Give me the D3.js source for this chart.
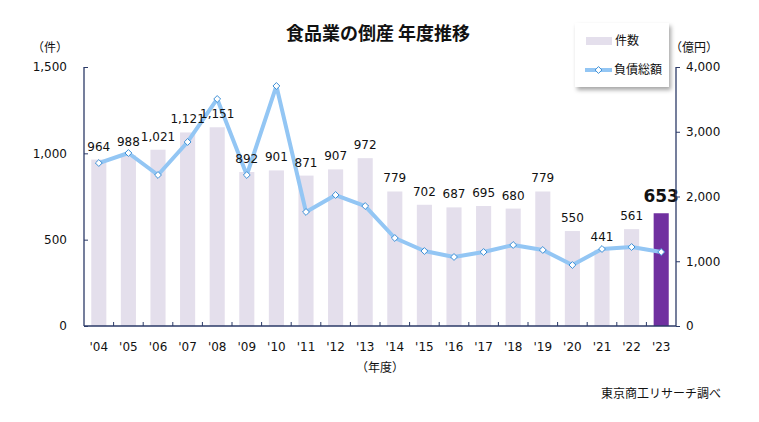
<!DOCTYPE html>
<html><head><meta charset="utf-8">
<script src="https://cdn.jsdelivr.net/npm/d3@7"></script>
<style>
body{margin:0;background:#fff;}
text{font-family:"DejaVu Sans","Noto Sans CJK JP",sans-serif;fill:#111;}
.jp{font-family:"Noto Sans CJK JP",sans-serif;}
</style></head>
<body><svg id="c" width="759" height="422"></svg>
<script>
const years = ["'04","'05","'06","'07","'08","'09","'10","'11","'12","'13","'14","'15","'16","'17","'18","'19","'20","'21","'22","'23"];
const counts = [964,988,1021,1121,1151,892,901,871,907,972,779,702,687,695,680,779,550,441,561,653];
const debt = [2517,2672,2332,2842,3506,2332,3707,1761,2023,1853,1359,1158,1066,1143,1251,1174,942,1189,1220,1143];
const leftTicks = [0,500,1000,1500];
const rightTicks = [0,1000,2000,3000,4000];

const svg = d3.select("#c");
const L=84, R=676, T=67, B=326;
const axisColor="#2b3a67";
const x = d3.scaleBand().domain(years).range([L,R]).paddingInner(0.49).paddingOuter(0.245);
const xb = d3.scaleBand().domain(years).range([L,R]);
const yL = d3.scaleLinear().domain([0,1500]).range([B,T]);
const yR = d3.scaleLinear().domain([0,4000]).range([B,T]);

// bars
svg.selectAll("rect.bar").data(counts).join("rect")
  .attr("x",(d,i)=>x(years[i])).attr("width",x.bandwidth())
  .attr("y",d=>yL(d)).attr("height",d=>B-yL(d))
  .attr("fill",(d,i)=>i===counts.length-1?"#7030a0":"#e4dfec");

// line
const line = d3.line().x((d,i)=>xb(years[i])+xb.bandwidth()/2).y(d=>yR(d));
svg.append("path").datum(debt).attr("d",line).attr("fill","none")
  .attr("stroke","#93c6f4").attr("stroke-width",4).attr("stroke-linejoin","round");
svg.selectAll("path.mk").data(debt).join("path")
  .attr("d",d3.symbol(d3.symbolDiamond2,30))
  .attr("transform",(d,i)=>`translate(${xb(years[i])+xb.bandwidth()/2},${yR(d)})`)
  .attr("fill","#fff").attr("stroke","#3d8fd6").attr("stroke-width",1);

// labels
svg.selectAll("text.lab").data(counts).join("text")
  .attr("x",(d,i)=>xb(years[i])+xb.bandwidth()/2)
  .attr("y",(d,i)=>yL(d)-(i===counts.length-1?11:9))
  .attr("text-anchor","middle")
  .style("font-size",(d,i)=>i===counts.length-1?"17px":"12px")
  .style("font-weight",(d,i)=>i===counts.length-1?"bold":"normal")
  .attr("fill","#1a1a1a")
  .text(d=>d3.format(",")(d));

// axes
const axL = d3.axisLeft(yL).tickValues(leftTicks).tickFormat(d3.format(",")).tickSize(-4).tickPadding(17);
const gL = svg.append("g").attr("transform",`translate(${L},0)`).call(axL);
const axR = d3.axisRight(yR).tickValues(rightTicks).tickFormat(d3.format(",")).tickSize(4).tickPadding(6);
const gR = svg.append("g").attr("transform",`translate(${R},0)`).call(axR);
const axB = d3.axisBottom(xb).tickSize(0).tickPadding(16);
const gB = svg.append("g").attr("transform",`translate(0,${B})`).call(axB);
[gL,gR,gB].forEach(g=>{
  g.selectAll("path.domain").attr("stroke",axisColor).attr("stroke-width",1.3);
  g.selectAll("line").attr("stroke",axisColor);
  g.selectAll("text").style("font-size","12px").attr("fill","#1a1a1a").style("font-family","DejaVu Sans");
});
gL.select("path.domain").attr("d",`M0,${T}V${B}`);
gR.select("path.domain").attr("d",`M0,${T}V${B}`);
gB.select("path.domain").attr("d",`M${L},0H${R}`);
// category boundary ticks
svg.selectAll("line.bt").data(years.slice(1)).join("line")
  .attr("x1",d=>xb(d)).attr("x2",d=>xb(d)).attr("y1",B).attr("y2",B-4)
  .attr("stroke",axisColor);

// axis titles
svg.append("text").attr("class","jp").attr("x",50).attr("y",52).attr("text-anchor","middle").style("font-size","12px").text("（件）");
svg.append("text").attr("class","jp").attr("x",694).attr("y",52).attr("text-anchor","middle").style("font-size","12px").text("（億円）");
svg.append("text").attr("class","jp").attr("x",380).attr("y",372).attr("text-anchor","middle").style("font-size","12px").text("（年度）");
svg.append("text").attr("class","jp").attr("x",721).attr("y",398).attr("text-anchor","end").style("font-size","12px").text("東京商工リサーチ調べ");

// title
svg.append("text").attr("class","jp").attr("x",378).attr("y",40).attr("text-anchor","middle")
  .style("font-size","18px").style("font-weight","bold").text("食品業の倒産 年度推移");

// legend
const defs = svg.append("defs");
const f = defs.append("filter").attr("id","sh").attr("x","-10%").attr("y","-10%").attr("width","130%").attr("height","140%");
f.append("feDropShadow").attr("dx",2).attr("dy",3).attr("stdDeviation",2).attr("flood-color","#000").attr("flood-opacity",0.35);
svg.append("rect").attr("x",575).attr("y",23).attr("width",94).attr("height",64).attr("fill","#fff").attr("filter","url(#sh)");
svg.append("rect").attr("x",586).attr("y",37).attr("width",26).attr("height",8).attr("fill","#e4dfec");
svg.append("text").attr("class","jp").attr("x",615).attr("y",45).style("font-size","12px").text("件数");
svg.append("line").attr("x1",585).attr("x2",612).attr("y1",70).attr("y2",70).attr("stroke","#93c6f4").attr("stroke-width",4);
svg.append("path").attr("d",d3.symbol(d3.symbolDiamond2,30)).attr("transform","translate(598.5,70)").attr("fill","#fff").attr("stroke","#3d8fd6");
svg.append("text").attr("class","jp").attr("x",614).attr("y",74).style("font-size","12px").text("負債総額");
</script></body></html>
